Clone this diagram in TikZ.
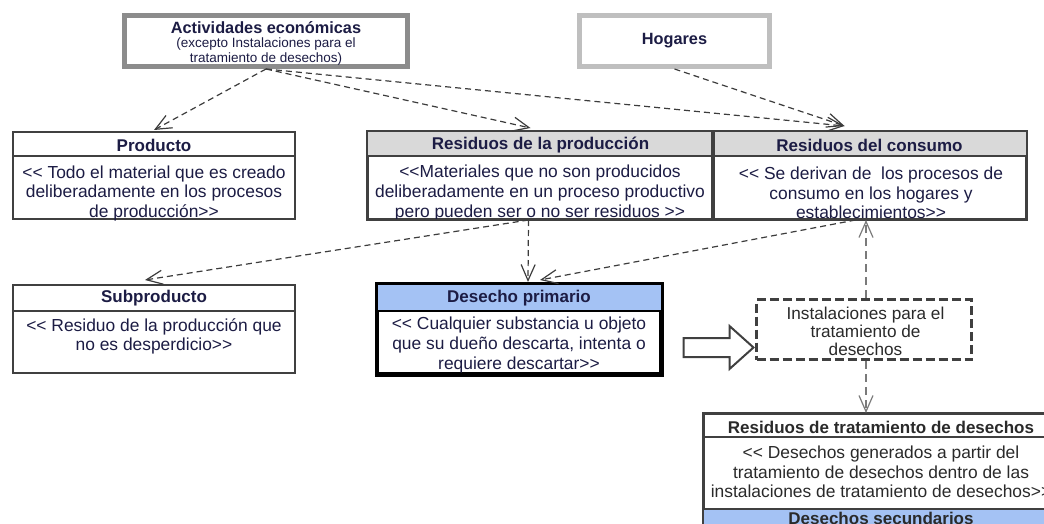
\documentclass[tikz,border=0pt]{standalone}
\usepackage{fontspec}
\setmainfont{Liberation Sans}
\usetikzlibrary{arrows.meta,calc}
\definecolor{bordc}{HTML}{404040}
\definecolor{txtc}{HTML}{1C1C44}
\definecolor{txtg}{HTML}{2A2A2A}
\definecolor{hdrgray}{HTML}{D9D9D9}
\definecolor{hdrblue}{HTML}{A4C2F4}
\definecolor{actc}{HTML}{8C8C8C}
\definecolor{hogc}{HTML}{BFBFBF}
\definecolor{dashc}{HTML}{3C3C3C}
\definecolor{vdashc}{HTML}{7A7A7A}
\begin{document}
\begin{tikzpicture}[x=1pt,y=-1pt,
  umlbox/.style={draw=bordc, line width=2pt, fill=white, inner sep=0pt},
  ttl/.style={font=\fontsize{17}{20}\selectfont\bfseries, text=txtc, inner sep=0pt},
  bdy/.style={font=\fontsize{17.4}{19.6}\selectfont, text=txtc, align=center, inner sep=0pt},
  dep/.style={draw=dashc, line width=1.2pt, dash pattern=on 6pt off 4pt,
    -{Straight Barb[length=16pt,width=14pt,line width=1.2pt]}},
  vdep/.style={draw=vdashc, line width=1.6pt, dash pattern=on 8pt off 5pt,
    -{Straight Barb[length=16pt,width=14pt,line width=1.2pt]}},
]
\useasboundingbox (0,0) rectangle (1044,524);
\clip (0,0) rectangle (1044,524);

% top boxes
\node[draw=actc, line width=5pt, fill=white, minimum width=283pt, minimum height=51pt, inner sep=0pt] (act) at (266,41) {};
\node[ttl, font=\fontsize{16.3}{19}\selectfont\bfseries] (actt) at (266,27.5) {Actividades económicas};
\node[bdy, font=\fontsize{13.5}{15}\selectfont] (acts) at (266,51.5) {(excepto Instalaciones para el\\tratamiento de desechos)};

\node[draw=hogc, line width=5pt, fill=white, minimum width=190pt, minimum height=51pt, inner sep=0pt] (hog) at (674.5,41) {};
\node[ttl, font=\fontsize{16.3}{19}\selectfont\bfseries] (hogt) at (674.5,41) {Hogares};

% Producto
\node[umlbox, minimum width=282pt, minimum height=87pt] (prod) at (154,175.5) {};
\draw[bordc, line width=2pt] ([yshift=-25pt]prod.north west) -- ([yshift=-25pt]prod.north east);
\node[ttl] (prodt) at (154,145) {Producto};
\node[bdy] (prodb) at (154,193.5) {<{}< Todo el material que es creado\\deliberadamente en los procesos\\de producción>{}>};

% Residuos de la produccion
\node[umlbox, minimum width=345pt, minimum height=87pt] (rp) at (540.5,175.5) {};
\fill[hdrgray] ([xshift=1pt,yshift=-1pt]rp.north west) rectangle ([xshift=-1pt,yshift=-25pt]rp.north east);
\draw[bordc, line width=2pt] ([yshift=-25pt]rp.north west) -- ([yshift=-25pt]rp.north east);
\node[ttl] (rpt) at (540.5,145) {Residuos de la producción};
\node[bdy] (rpb) at (540,193) {<{}<Materiales que no son producidos\\deliberadamente en un proceso productivo\\pero pueden ser o no ser residuos >{}>};

% Residuos del consumo
\node[umlbox, minimum width=313pt, minimum height=87pt] (rc) at (869.5,175.5) {};
\fill[hdrgray] ([xshift=1pt,yshift=-1pt]rc.north west) rectangle ([xshift=-1pt,yshift=-25pt]rc.north east);
\draw[bordc, line width=2pt] ([yshift=-25pt]rc.north west) -- ([yshift=-25pt]rc.north east);
\draw[bordc, line width=2pt] (rc.north west) rectangle (rc.south east);
\draw[bordc, line width=2pt] (rp.north west) rectangle (rp.south east);
\node[ttl] (rct) at (869.5,145) {Residuos del consumo};
\node[bdy] (rcb) at (871,193) {<{}< Se derivan de\ \ los procesos de\\consumo en los hogares y\\establecimientos>{}>};

% Subproducto
\node[umlbox, minimum width=282pt, minimum height=88pt] (sub) at (154,329) {};
\draw[bordc, line width=2pt] ([yshift=-27pt]sub.north west) -- ([yshift=-27pt]sub.north east);
\node[ttl] (subt) at (154,298) {Subproducto};
\node[bdy] (subb) at (154,336.5) {<{}< Residuo de la producción que\\no es desperdicio>{}>};

% Desecho primario
\node[draw=black, line width=3pt, fill=white, inner sep=0pt, minimum width=283pt, minimum height=89pt] (dp) at (519,329) {};
\fill[hdrblue] ([xshift=1.5pt,yshift=-1.5pt]dp.north west) rectangle ([xshift=-1.5pt,yshift=-27.5pt]dp.north east);
\draw[black, line width=2pt] ([yshift=-27.5pt]dp.north west) -- ([yshift=-27.5pt]dp.north east);
\draw[black, line width=3pt] (dp.north west) rectangle (dp.south east);
\node[ttl] (dpt) at (519,298) {Desecho primario};
\node[bdy] (dpb) at (519,345) {<{}< Cualquier substancia u objeto\\que su dueño descarta, intenta o\\requiere descartar>{}>};

% Instalaciones
\node[draw=bordc, line width=3pt, dash pattern=on 9pt off 4pt, fill=white, inner sep=0pt, minimum width=215pt, minimum height=60pt] (inst) at (864,329.5) {};
\node[bdy, text=txtg, font=\fontsize{17.2}{18}\selectfont] (instt) at (865.5,331) {Instalaciones para el\\tratamiento de\\desechos};

% Residuos de tratamiento
\node[draw=bordc, line width=2pt, fill=white, inner sep=0pt, minimum width=354pt, minimum height=131pt] (rt) at (881,479.5) {};
\fill[hdrblue] ([xshift=1pt,yshift=-96pt]rt.north west) rectangle ([xshift=-1pt,yshift=1pt]rt.south east);
\draw[bordc, line width=2pt] ([yshift=-24pt]rt.north west) -- ([yshift=-24pt]rt.north east);
\draw[bordc, line width=2pt] ([yshift=-96pt]rt.north west) -- ([yshift=-96pt]rt.north east);
\draw[bordc, line width=2pt] (rt.north west) rectangle (rt.south east);
\node[ttl, text=txtg] (rtt) at (881,427) {Residuos de tratamiento de desechos};
\node[bdy, text=txtg] (rtb) at (881,472) {<{}< Desechos generados a partir del\\tratamiento de desechos dentro de las\\instalaciones de tratamiento de desechos>{}>};
\node[ttl, text=txtg] (rts) at (881,518) {Desechos secundarios};

% connectors
\coordinate (rctip) at ([xshift=-25pt,yshift=5pt]rc.north);
\draw[dep] (act.south) -- ([yshift=1pt]prod.north);
\draw[dep] (act.south) -- ([xshift=-10pt,yshift=3pt]rp.north);
\draw[dep] (act.south) -- (rctip);
\draw[dep] (hog.south) -- (rctip);
\draw[dep] ([xshift=-12pt]rp.south) -- ([xshift=-9pt,yshift=4pt]sub.north);
\draw[dep] ([xshift=-12pt]rp.south) -- ([xshift=9pt,yshift=1pt]dp.north);
\draw[dep] ([xshift=-14pt]rc.south) -- ([xshift=21pt,yshift=3pt]dp.north);
\draw[vdep] ([xshift=2pt]inst.north) -- ([xshift=2pt]inst.north |- rc.south);
\draw[vdep] ([xshift=2pt]inst.south) -- ([xshift=2pt]inst.south |- rt.north);

% hollow block arrow
\coordinate (ba) at ([xshift=21.5pt,yshift=-9pt]dp.east);
\draw[bordc, line width=2pt, fill=white, line join=miter]
  (ba) -- ++(46,0) -- ++(0,-12) -- ++(24,21.5) -- ++(-24,21.5) -- ++(0,-12) -- ++(-46,0) -- cycle;
\end{tikzpicture}
\end{document}
